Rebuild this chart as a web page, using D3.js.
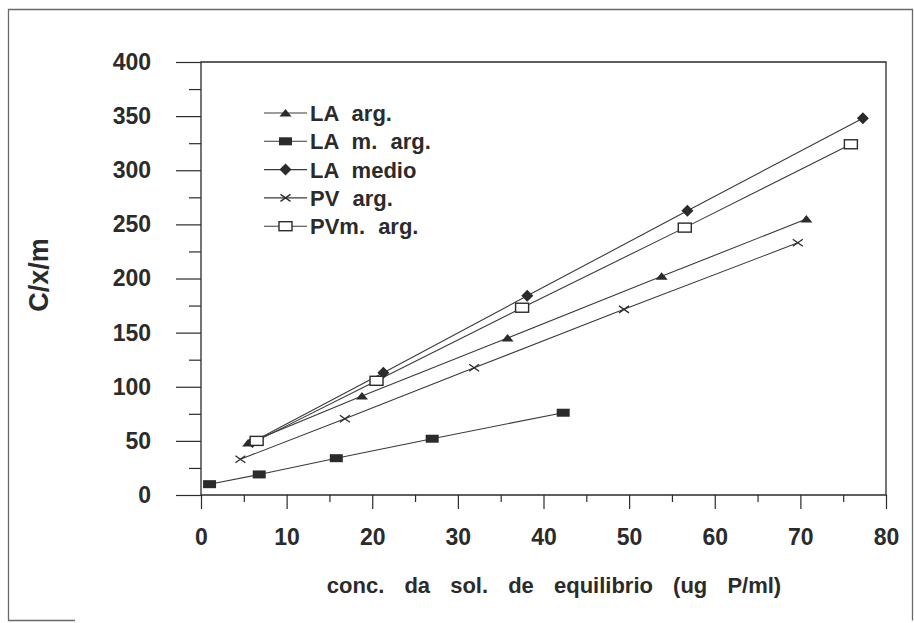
<!DOCTYPE html>
<html><head><meta charset="utf-8">
<script src="https://cdn.jsdelivr.net/npm/d3@7"></script>
<style>
html,body{margin:0;padding:0;background:#fff;}
svg{display:block;}
text{font-family:"Liberation Sans",Arial,sans-serif;fill:#2b2b2b;}
</style></head>
<body>
<svg id="c" width="914" height="623"></svg>
<script>
// ---- data ----
const seriesNames = ["LA arg.", "LA m. arg.", "LA medio", "PV arg.", "PVm. arg."];
const laArgX   = [5.5, 18.8, 35.8, 53.8, 70.7];
const laArgY   = [48, 91.5, 145, 202, 255];
const laMArgX  = [1.0, 6.8, 15.8, 27.0, 42.3];
const laMArgY  = [10, 19, 34, 52, 76];
const laMedioX = [6.0, 21.3, 38.1, 56.8, 77.3];
const laMedioY = [49, 113, 184, 262.5, 348];
const pvArgX   = [4.6, 16.8, 31.9, 49.4, 69.7];
const pvArgY   = [33, 70.5, 117.5, 171.5, 233];
const pvMArgX  = [6.5, 20.5, 37.5, 56.5, 75.9];
const pvMArgY  = [50, 105.5, 173, 247, 324];
const xTicks = [0, 10, 20, 30, 40, 50, 60, 70, 80];
const xMinor = [5, 15, 25, 35, 45, 55, 65, 75];
const yTicks = [0, 50, 100, 150, 200, 250, 300, 350, 400];
const yMinor = [25, 75, 125, 175, 225, 275, 325, 375];
const xTitle = "conc. da sol. de equilibrio (ug P/ml)";
const yTitle = "C/x/m";

const markers = ["triangle", "square", "diamond", "cross", "opensquare"];
const series = [
  {x: laArgX, y: laArgY}, {x: laMArgX, y: laMArgY}, {x: laMedioX, y: laMedioY},
  {x: pvArgX, y: pvArgY}, {x: pvMArgX, y: pvMArgY}
].map((s, i) => ({name: seriesNames[i], marker: markers[i], pts: s.x.map((v, j) => [v, s.y[j]])}));

// ---- layout ----
const svg = d3.select("#c");
const ink = "#2b2b2b";
const X0 = 201, X1 = 886, Y0 = 495, Y1 = 62;
const x = d3.scaleLinear().domain([0, 80]).range([X0, X1]);
const y = d3.scaleLinear().domain([0, 400]).range([Y0, Y1]);

// outer frame (bottom edge only faintly visible at left in the scan)
svg.append("path").attr("d", "M75,620.5H8.5V9.5H912.5V620.5")
  .attr("fill", "none").attr("stroke", "#6a6a6a").attr("stroke-width", 1.3);

// y axis
const gy = svg.append("g").attr("transform", `translate(${X0},0)`);
gy.call(d3.axisLeft(y).tickValues(yTicks).tickSize(25).tickPadding(25).tickFormat(d3.format("d")));
gy.append("g").call(d3.axisLeft(y).tickValues(yMinor).tickSize(12).tickFormat(""));
gy.selectAll(".domain").remove();
gy.selectAll("line").attr("stroke", ink).attr("stroke-width", 1.2);
gy.selectAll("text").style("font-size", "23px").style("font-weight", "bold").attr("fill", ink);

// x axis
const gx = svg.append("g").attr("transform", `translate(0,${Y0})`);
gx.call(d3.axisBottom(x).tickValues(xTicks).tickSize(14).tickPadding(20).tickFormat(d3.format("d")));
gx.append("g").call(d3.axisBottom(x).tickValues(xMinor).tickSize(7).tickFormat(""));
gx.selectAll(".domain").remove();
gx.selectAll("line").attr("stroke", ink).attr("stroke-width", 1.2);
gx.selectAll("text").style("font-size", "23px").style("font-weight", "bold").attr("fill", ink);

// plot box
svg.append("path")
  .attr("d", `M${X0},${Y0}V${Y1}H${X1}V${Y0}H${X0}`)
  .attr("fill", "none").attr("stroke", ink).attr("stroke-width", 1.3);

// titles
svg.append("text").attr("x", 554).attr("y", 593).attr("text-anchor", "middle")
  .style("font-size", "22px").style("font-weight", "bold").style("word-spacing", "14px")
  .text(xTitle);
svg.append("text").attr("transform", "translate(48,275) rotate(-90)").attr("text-anchor", "middle")
  .style("font-size", "27px").style("font-weight", "bold")
  .text(yTitle);

// markers
function drawMarker(g, type, cx, cy) {
  if (type === "triangle") {
    g.append("path").attr("d", `M${cx - 6},${cy + 3.5}L${cx},${cy - 4}L${cx + 6},${cy + 3.5}Z`).attr("fill", ink);
  } else if (type === "square") {
    g.append("rect").attr("x", cx - 6.5).attr("y", cy - 4).attr("width", 13).attr("height", 8).attr("fill", ink);
  } else if (type === "diamond") {
    g.append("path").attr("d", `M${cx},${cy - 6}L${cx + 6},${cy}L${cx},${cy + 6}L${cx - 6},${cy}Z`).attr("fill", ink);
  } else if (type === "cross") {
    g.append("path").attr("d", `M${cx - 5},${cy - 3.5}L${cx + 5},${cy + 3.5}M${cx - 5},${cy + 3.5}L${cx + 5},${cy - 3.5}`)
      .attr("stroke", ink).attr("stroke-width", 1.3).attr("fill", "none");
  } else if (type === "opensquare") {
    g.append("rect").attr("x", cx - 6.5).attr("y", cy - 4.5).attr("width", 13).attr("height", 9)
      .attr("fill", "#fff").attr("stroke", ink).attr("stroke-width", 1.4);
  }
}

const line = d3.line().x(d => x(d[0])).y(d => y(d[1]));
const gData = svg.append("g");
series.forEach(s => {
  gData.append("path").attr("d", line(s.pts)).attr("fill", "none").attr("stroke", "#3a3a3a").attr("stroke-width", 1.1);
});
series.forEach(s => {
  const g = gData.append("g");
  s.pts.forEach(p => drawMarker(g, s.marker, x(p[0]), y(p[1])));
});

// legend
const legY0 = 113, legDy = 28.3;
const leg = svg.append("g");
series.forEach((s, i) => {
  const ly = legY0 + i * legDy;
  leg.append("line").attr("x1", 264).attr("x2", 307).attr("y1", ly).attr("y2", ly)
    .attr("stroke", "#3a3a3a").attr("stroke-width", 1.1);
  drawMarker(leg, s.marker, 285.5, ly);
  leg.append("text").attr("x", 310).attr("y", ly).attr("dy", "0.36em")
    .style("font-size", "22px").style("font-weight", "bold").style("word-spacing", "7px")
    .text(s.name);
});
</script>
</body></html>
